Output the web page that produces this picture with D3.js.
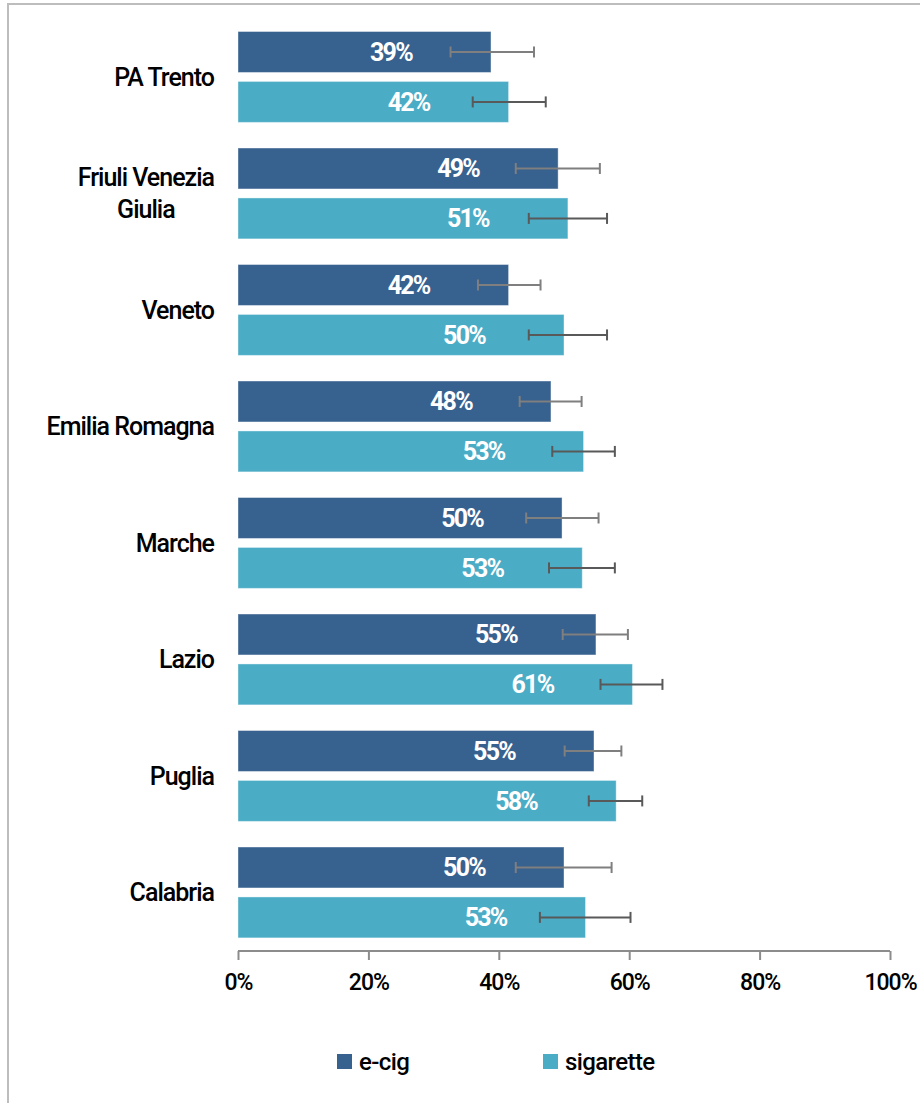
<!DOCTYPE html>
<html>
<head>
<meta charset="utf-8">
<script src="https://cdn.jsdelivr.net/npm/d3@7"></script>
<style>
  body { margin: 0; background: #fff; }
  text { font-family: Roboto, "Noto Sans", sans-serif; }
</style>
</head>
<body>
<svg id="chart" width="920" height="1103"></svg>
<script>
// regions, top to bottom
var regions = ["PA Trento", "Friuli Venezia Giulia", "Veneto", "Emilia Romagna", "Marche", "Lazio", "Puglia", "Calabria"];
var seriesNames = ["e-cig", "sigarette"];

// percentages
var ecig     = [38.8, 49.1, 41.5, 48.0, 49.7, 54.9, 54.6, 50.0];
var ecigLow  = [32.6, 42.6, 36.8, 43.2, 44.2, 49.8, 50.1, 42.6];
var ecigHigh = [45.4, 55.5, 46.4, 52.7, 55.3, 59.8, 58.8, 57.3];

var sig     = [41.5, 50.6, 50.0, 53.0, 52.8, 60.5, 58.0, 53.3];
var sigLow  = [36.0, 44.6, 44.6, 48.2, 47.7, 55.6, 53.8, 46.3];
var sigHigh = [47.2, 56.6, 56.6, 57.8, 57.8, 65.1, 62.0, 60.2];

var xTicks = [0, 20, 40, 60, 80, 100];

var colors = {"e-cig": "#37618f", "sigarette": "#4bacc6"};
var errColors = {"e-cig": "#7f7f7f", "sigarette": "#595959"};

var rows = [];
regions.forEach(function(r, i) {
  rows.push({region: r, series: "e-cig", value: ecig[i], low: ecigLow[i], high: ecigHigh[i]});
  rows.push({region: r, series: "sigarette", value: sig[i], low: sigLow[i], high: sigHigh[i]});
});

var svg = d3.select("#chart");

// outer frame (right and bottom edges run off the page)
svg.append("rect")
    .attr("x", 8).attr("y", 4)
    .attr("width", 930).attr("height", 1110)
    .attr("fill", "none")
    .attr("stroke", "#bdbdbd")
    .attr("stroke-width", 2);

var x = d3.scaleLinear().domain([0, 100]).range([238, 890]);

var y0 = d3.scaleBand()
    .domain(regions)
    .range([18.7, 950.7])
    .paddingInner(0.22)
    .paddingOuter(0.11);

var y1 = d3.scaleBand()
    .domain(seriesNames)
    .range([0, y0.bandwidth()])
    .paddingInner(0.18);

// x axis
var axisY = 951;
var axis = svg.append("g")
    .attr("transform", "translate(0," + axisY + ")")
    .call(d3.axisBottom(x).tickValues(xTicks).tickSize(9).tickPadding(14)
      .tickFormat(function(d) { return d + "%"; }));
axis.select(".domain").attr("stroke", "#8c8c8c").attr("stroke-width", 2)
    .attr("d", "M" + x(0) + ",0H" + x(100));
axis.selectAll(".tick line").attr("stroke", "#8c8c8c").attr("stroke-width", 2);
axis.selectAll(".tick text")
    .attr("font-size", 23)
    .attr("font-weight", 500)
    .attr("letter-spacing", "-1px")
    .attr("fill", "#000");

// bars
var groups = svg.append("g").selectAll("g")
    .data(rows)
    .enter().append("g")
      .attr("transform", function(d) { return "translate(0," + (y0(d.region) + y1(d.series)) + ")"; });

groups.append("rect")
    .attr("x", x(0))
    .attr("y", 0)
    .attr("width", function(d) { return x(d.value) - x(0); })
    .attr("height", y1.bandwidth())
    .attr("fill", function(d) { return colors[d.series]; })
    .attr("stroke", "#ffffff")
    .attr("stroke-opacity", 0.4)
    .attr("stroke-width", 1);

groups.append("text")
    .attr("x", function(d) { return x(d.value) - 100; })
    .attr("y", y1.bandwidth() / 2)
    .attr("dy", "0.36em")
    .attr("text-anchor", "middle")
    .attr("font-size", 25)
    .attr("font-weight", "bold")
    .attr("letter-spacing", "-1.8px")
    .attr("fill", "#fff")
    .text(function(d) { return Math.round(d.value) + "%"; });

// error bars
var err = groups.append("g")
    .attr("stroke", function(d) { return errColors[d.series]; })
    .attr("stroke-width", 2);
err.append("line")
    .attr("x1", function(d) { return x(d.low); })
    .attr("x2", function(d) { return x(d.high); })
    .attr("y1", y1.bandwidth() / 2)
    .attr("y2", y1.bandwidth() / 2);
err.append("line")
    .attr("x1", function(d) { return x(d.low); })
    .attr("x2", function(d) { return x(d.low); })
    .attr("y1", y1.bandwidth() / 2 - 5.5)
    .attr("y2", y1.bandwidth() / 2 + 5.5);
err.append("line")
    .attr("x1", function(d) { return x(d.high); })
    .attr("x2", function(d) { return x(d.high); })
    .attr("y1", y1.bandwidth() / 2 - 5.5)
    .attr("y2", y1.bandwidth() / 2 + 5.5);

// category labels, wrapped when too long
var catLabels = svg.append("g").selectAll("text")
    .data(regions)
    .enter().append("text")
      .attr("font-size", 25)
      .attr("font-weight", 500)
      .attr("letter-spacing", "-1px")
      .attr("fill", "#000");

catLabels.each(function(d) {
  var t = d3.select(this);
  var words = d.split(" ");
  var lines = [d];
  if (d.length > 16) {
    lines = [words.slice(0, -1).join(" "), words[words.length - 1]];
  }
  var cy = y0(d) + y0.bandwidth() / 2;
  var lh = 32;
  lines.forEach(function(l, i) {
    t.append("tspan")
      .attr("y", cy + (i - (lines.length - 1) / 2) * lh)
      .attr("dy", "0.36em")
      .text(l);
  });
  // right-align the block, centre the lines inside it
  var spans = t.selectAll("tspan").nodes();
  var widths = spans.map(function(s) { return s.getComputedTextLength(); });
  var maxW = d3.max(widths);
  var right = 214;
  spans.forEach(function(s) {
    d3.select(s).attr("x", right - maxW / 2).attr("text-anchor", "middle");
  });
});

// legend
var legend = svg.append("g").selectAll("g")
    .data(seriesNames)
    .enter().append("g")
      .attr("transform", function(d, i) { return "translate(" + (337 + i * 206) + ",1054)"; });
legend.append("rect")
    .attr("width", 15).attr("height", 15)
    .attr("fill", function(d) { return colors[d]; });
legend.append("text")
    .attr("x", 22)
    .attr("y", 7.5)
    .attr("dy", "0.36em")
    .attr("font-size", 24)
    .attr("font-weight", 500)
    .attr("letter-spacing", "-0.6px")
    .attr("fill", "#000")
    .text(function(d) { return d; });
</script>
</body>
</html>
